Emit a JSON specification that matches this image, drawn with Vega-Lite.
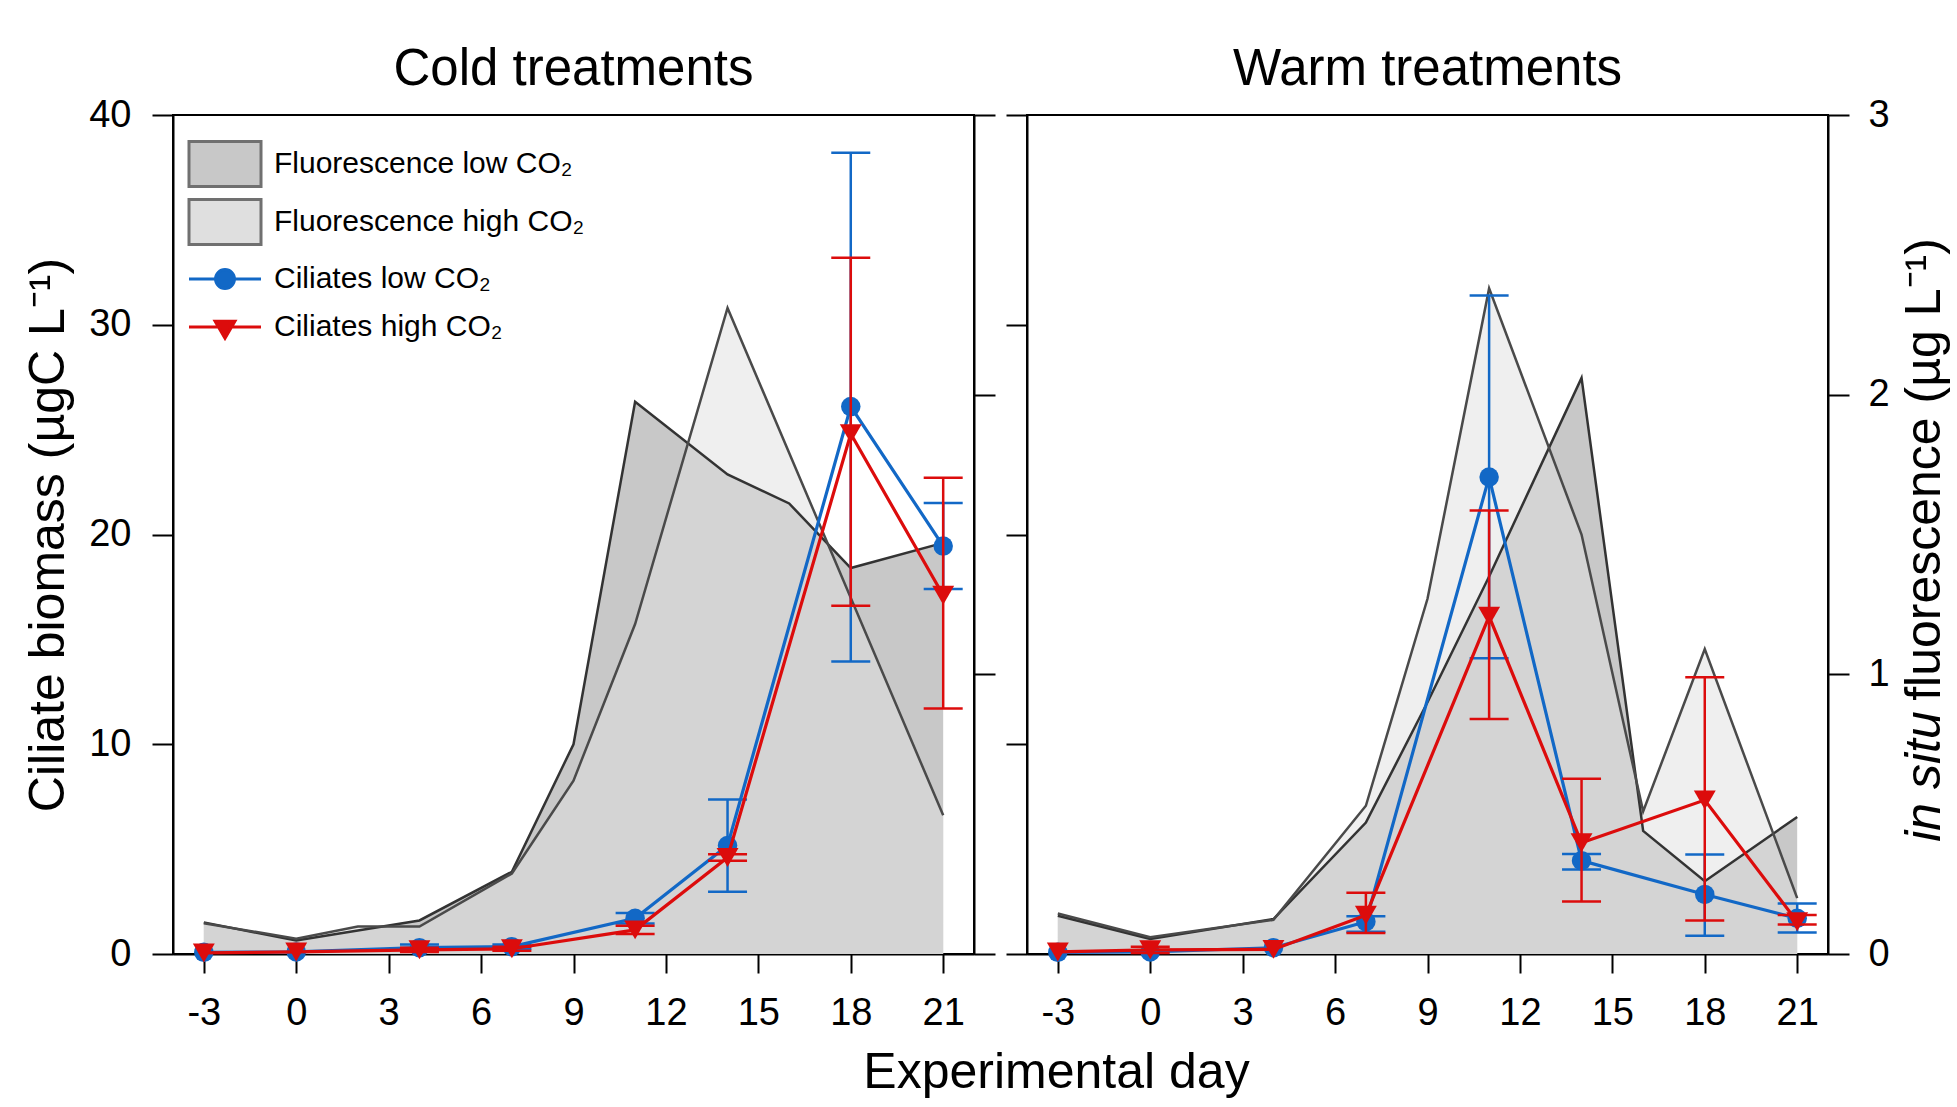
{
"$schema": "https://vega.github.io/schema/vega-lite/v6.json",
"background": "white",
"padding": {"left": 22, "top": 43, "right": 5, "bottom": 5},
"config": {
 "font": "Liberation Sans",
 "view": {"stroke": "black", "strokeWidth": 2},
 "axis": {"grid": false, "domainColor": "black", "domainWidth": 2, "tickColor": "black", "tickWidth": 2, "labelFont": "Liberation Sans", "labelFontSize": 38, "labelColor": "black", "titleFont": "Liberation Sans", "titleFontSize": 50, "titleFontWeight": "normal", "titleColor": "black", "labelOverlap": false},
 "legend": {"labelFont": "Liberation Sans"},
 "area": {"invalid": "filter"},
 "line": {"invalid": "filter"}
},
"datasets": {
 "fl": [
  {"panel": "cold", "day": -3, "low": 0.113, "high": 0.11},
  {"panel": "cold", "day": 0, "low": 0.048, "high": 0.055},
  {"panel": "cold", "day": 2, "low": null, "high": 0.098},
  {"panel": "cold", "day": 4, "low": 0.12, "high": 0.098},
  {"panel": "cold", "day": 7, "low": 0.294, "high": 0.288},
  {"panel": "cold", "day": 9, "low": 0.75, "high": 0.62},
  {"panel": "cold", "day": 11, "low": 1.975, "high": 1.18},
  {"panel": "cold", "day": 14, "low": 1.715, "high": 2.31},
  {"panel": "cold", "day": 16, "low": 1.611, "high": null},
  {"panel": "cold", "day": 18, "low": 1.38, "high": null},
  {"panel": "cold", "day": 21, "low": 1.47, "high": 0.496},
  {"panel": "warm", "day": -3, "low": 0.137, "high": 0.145},
  {"panel": "warm", "day": 0, "low": 0.054, "high": 0.06},
  {"panel": "warm", "day": 4, "low": 0.125, "high": 0.122},
  {"panel": "warm", "day": 7, "low": 0.47, "high": 0.53},
  {"panel": "warm", "day": 9, "low": 0.9, "high": 1.27},
  {"panel": "warm", "day": 11, "low": 1.35, "high": 2.38},
  {"panel": "warm", "day": 14, "low": 2.06, "high": 1.5},
  {"panel": "warm", "day": 16, "low": 0.44, "high": 0.51},
  {"panel": "warm", "day": 18, "low": 0.26, "high": 1.09},
  {"panel": "warm", "day": 21, "low": 0.49, "high": 0.2}
 ],
 "cil": [
  {"panel": "cold", "series": "low", "day": -3, "mean": 0.08, "lo": null, "hi": null},
  {"panel": "cold", "series": "low", "day": 0, "mean": 0.1, "lo": null, "hi": null},
  {"panel": "cold", "series": "low", "day": 4, "mean": 0.3, "lo": 0.15, "hi": 0.45},
  {"panel": "cold", "series": "low", "day": 7, "mean": 0.35, "lo": 0.25, "hi": 0.45},
  {"panel": "cold", "series": "low", "day": 11, "mean": 1.7, "lo": 1.45, "hi": 1.95},
  {"panel": "cold", "series": "low", "day": 14, "mean": 5.17, "lo": 2.97, "hi": 7.37},
  {"panel": "cold", "series": "low", "day": 18, "mean": 26.1, "lo": 13.95, "hi": 38.2},
  {"panel": "cold", "series": "low", "day": 21, "mean": 19.45, "lo": 17.4, "hi": 21.5},
  {"panel": "cold", "series": "high", "day": -3, "mean": 0.05, "lo": null, "hi": null},
  {"panel": "cold", "series": "high", "day": 0, "mean": 0.1, "lo": null, "hi": null},
  {"panel": "cold", "series": "high", "day": 4, "mean": 0.2, "lo": 0.1, "hi": 0.3},
  {"panel": "cold", "series": "high", "day": 7, "mean": 0.25, "lo": 0.15, "hi": 0.35},
  {"panel": "cold", "series": "high", "day": 11, "mean": 1.15, "lo": 0.95, "hi": 1.35},
  {"panel": "cold", "series": "high", "day": 14, "mean": 4.6, "lo": 4.45, "hi": 4.75},
  {"panel": "cold", "series": "high", "day": 18, "mean": 24.8, "lo": 16.6, "hi": 33.2},
  {"panel": "cold", "series": "high", "day": 21, "mean": 17.1, "lo": 11.7, "hi": 22.7},
  {"panel": "warm", "series": "low", "day": -3, "mean": 0.08, "lo": null, "hi": null},
  {"panel": "warm", "series": "low", "day": 0, "mean": 0.1, "lo": null, "hi": null},
  {"panel": "warm", "series": "low", "day": 4, "mean": 0.3, "lo": null, "hi": null},
  {"panel": "warm", "series": "low", "day": 7, "mean": 1.54, "lo": 1.06, "hi": 1.8},
  {"panel": "warm", "series": "low", "day": 11, "mean": 22.74, "lo": 14.1, "hi": 31.4},
  {"panel": "warm", "series": "low", "day": 14, "mean": 4.45, "lo": 4.03, "hi": 4.77},
  {"panel": "warm", "series": "low", "day": 18, "mean": 2.84, "lo": 0.87, "hi": 4.74},
  {"panel": "warm", "series": "low", "day": 21, "mean": 1.7, "lo": 1.03, "hi": 2.41},
  {"panel": "warm", "series": "high", "day": -3, "mean": 0.1, "lo": null, "hi": null},
  {"panel": "warm", "series": "high", "day": 0, "mean": 0.2, "lo": 0.05, "hi": 0.35},
  {"panel": "warm", "series": "high", "day": 4, "mean": 0.22, "lo": null, "hi": null},
  {"panel": "warm", "series": "high", "day": 7, "mean": 1.85, "lo": 1.0, "hi": 2.92},
  {"panel": "warm", "series": "high", "day": 11, "mean": 16.1, "lo": 11.2, "hi": 21.15},
  {"panel": "warm", "series": "high", "day": 14, "mean": 5.3, "lo": 2.5, "hi": 8.35},
  {"panel": "warm", "series": "high", "day": 18, "mean": 7.34, "lo": 1.6, "hi": 13.2},
  {"panel": "warm", "series": "high", "day": 21, "mean": 1.54, "lo": 1.41, "hi": 1.86}
 ]
},
"spacing": 53,
"bounds": "flush",
"hconcat": [
 {
  "width": 801, "height": 839,
  "title": {"text": "Cold treatments", "fontSize": 51, "fontWeight": "normal", "font": "Liberation Sans", "color": "black", "frame": "group", "anchor": "middle", "baseline": "alphabetic", "offset": -40},
  "encoding": {"x": {"field": "day", "type": "quantitative", "scale": {"domain": [-4, 22], "nice": false, "zero": false}, "axis": {"values": [-3, 0, 3, 6, 9, 12, 15, 18, 21], "tickSize": 19, "labelPadding": 21, "labelFlush": false, "labelExpr": "datum.value < 0 ? '-' + (-datum.value) : '' + datum.value", "title": "Experimental day", "titleX": 883, "titleY": 133, "titleAlign": "center", "titleBaseline": "alphabetic"}}},
  "resolve": {"scale": {"y": "independent", "fill": "independent", "stroke": "independent"}},
  "layer": [
   {
    "data": {"name": "fl"},
    "transform": [{"filter": "datum.panel === 'cold'"}],
    "mark": {"type": "area", "fillOpacity": 1, "invalid": "filter"},
    "encoding": {
     "y": {"field": "low", "type": "quantitative", "scale": {"domain": [0, 3], "nice": false}, "axis": {"orient": "right", "values": [0, 1, 2, 3], "labels": false, "tickSize": 21, "title": null}},
     "fill": {"datum": "Fluorescence low CO₂", "type": "nominal", "scale": {"range": ["#c8c8c8"]}, "legend": {"orient": "none", "legendX": 28, "legendY": 25, "title": null, "padding": 0, "symbolType": "M-1.6,-1H1.6V1H-1.6Z", "symbolSize": 2025, "symbolStrokeWidth": 3, "symbolStrokeColor": "#707070", "symbolFillColor": "#c8c8c8", "labelFontSize": 30, "labelOffset": 25, "labelLimit": 0, "labelColor": "black", "encode": {"symbols": {"update": {"fill": {"value": "#c8c8c8"}, "stroke": {"value": "#707070"}, "strokeWidth": {"value": 3}, "opacity": {"value": 1}, "fillOpacity": {"value": 1}}}}}}
    }
   },
   {
    "data": {"name": "fl"},
    "transform": [{"filter": "datum.panel === 'cold'"}],
    "layer": [
     {
      "mark": {"type": "area", "fillOpacity": 0.5, "invalid": "filter"},
      "encoding": {
       "y": {"field": "high", "type": "quantitative", "scale": {"domain": [0, 3], "nice": false}, "axis": null},
       "fill": {"datum": "Fluorescence high CO₂", "type": "nominal", "scale": {"range": ["#dfdfdf"]}, "legend": {"orient": "none", "legendX": 28, "legendY": 83, "title": null, "padding": 0, "symbolType": "M-1.6,-1H1.6V1H-1.6Z", "symbolSize": 2025, "symbolStrokeWidth": 3, "symbolStrokeColor": "#707070", "symbolFillColor": "#efefef", "labelFontSize": 30, "labelOffset": 25, "labelLimit": 0, "labelColor": "black", "encode": {"symbols": {"update": {"fill": {"value": "#efefef"}, "stroke": {"value": "#707070"}, "strokeWidth": {"value": 3}, "opacity": {"value": 1}, "fillOpacity": {"value": 1}}}}}}
      }
     },
     {
      "mark": {"type": "line", "color": "#333333", "strokeWidth": 2.5, "invalid": "filter"},
      "encoding": {"y": {"field": "low", "type": "quantitative", "scale": {"domain": [0, 3], "nice": false}, "axis": null}}
     },
     {
      "mark": {"type": "line", "color": "#4a4a4a", "strokeWidth": 2.5, "invalid": "filter"},
      "encoding": {"y": {"field": "high", "type": "quantitative", "scale": {"domain": [0, 3], "nice": false}, "axis": null}}
     }
    ]
   },
   {
    "data": {"name": "cil"},
    "transform": [{"filter": "datum.panel === 'cold'"}],
    "resolve": {"scale": {"stroke": "independent"}},
    "layer": [
     {
      "transform": [{"filter": "datum.series === 'low'"}],
      "layer": [
       {"mark": {"type": "rule", "color": "#1268c6", "strokeWidth": 2.5}, "encoding": {"y": {"field": "lo", "type": "quantitative", "scale": {"domain": [0, 40], "nice": false}, "axis": {"orient": "left", "values": [0, 10, 20, 30, 40], "tickSize": 21, "labelPadding": 21, "title": "Ciliate biomass (µgC L⁻¹)", "titleX": -125, "titleY": 419.5, "titleAngle": 270, "titleAlign": "center", "titleBaseline": "middle"}}, "y2": {"field": "hi"}}},
       {"mark": {"type": "tick", "orient": "horizontal", "color": "#1268c6", "size": 39, "thickness": 2.5, "opacity": 1}, "encoding": {"y": {"field": "hi", "type": "quantitative", "scale": {"domain": [0, 40], "nice": false}, "axis": {"orient": "left", "values": [0, 10, 20, 30, 40], "tickSize": 21, "labelPadding": 21, "title": "Ciliate biomass (µgC L⁻¹)", "titleX": -125, "titleY": 419.5, "titleAngle": 270, "titleAlign": "center", "titleBaseline": "middle"}}}},
       {"mark": {"type": "tick", "orient": "horizontal", "color": "#1268c6", "size": 39, "thickness": 2.5, "opacity": 1}, "encoding": {"y": {"field": "lo", "type": "quantitative", "scale": {"domain": [0, 40], "nice": false}, "axis": {"orient": "left", "values": [0, 10, 20, 30, 40], "tickSize": 21, "labelPadding": 21, "title": "Ciliate biomass (µgC L⁻¹)", "titleX": -125, "titleY": 419.5, "titleAngle": 270, "titleAlign": "center", "titleBaseline": "middle"}}}},
       {"mark": {"type": "line", "strokeWidth": 3.2, "invalid": "filter"}, "encoding": {"y": {"field": "mean", "type": "quantitative", "scale": {"domain": [0, 40], "nice": false}, "axis": {"orient": "left", "values": [0, 10, 20, 30, 40], "tickSize": 21, "labelPadding": 21, "title": "Ciliate biomass (µgC L⁻¹)", "titleX": -125, "titleY": 419.5, "titleAngle": 270, "titleAlign": "center", "titleBaseline": "middle"}}, "stroke": {"datum": "Ciliates low CO₂", "type": "nominal", "scale": {"range": ["#1268c6"]}, "legend": {"orient": "none", "legendX": 28, "legendY": 140, "title": null, "padding": 0, "symbolType": "M-1.6,0H1.6M-0.42,0A0.42,0.42,0,1,1,0.42,0A0.42,0.42,0,1,1,-0.42,0Z", "symbolSize": 2025, "symbolStrokeWidth": 3, "symbolStrokeColor": "#1268c6", "symbolFillColor": "#1268c6", "labelFontSize": 30, "labelOffset": 25, "labelLimit": 0, "labelColor": "black", "encode": {"symbols": {"update": {"fill": {"value": "#1268c6"}, "stroke": {"value": "#1268c6"}, "strokeWidth": {"value": 3}, "opacity": {"value": 1}, "fillOpacity": {"value": 1}}}}}}}},
       {"mark": {"type": "point", "shape": "circle", "filled": true, "size": 380, "color": "#1268c6", "opacity": 1}, "encoding": {"y": {"field": "mean", "type": "quantitative", "scale": {"domain": [0, 40], "nice": false}, "axis": {"orient": "left", "values": [0, 10, 20, 30, 40], "tickSize": 21, "labelPadding": 21, "title": "Ciliate biomass (µgC L⁻¹)", "titleX": -125, "titleY": 419.5, "titleAngle": 270, "titleAlign": "center", "titleBaseline": "middle"}}}}
      ]
     },
     {
      "transform": [{"filter": "datum.series === 'high'"}],
      "layer": [
       {"mark": {"type": "rule", "color": "#dc0c0c", "strokeWidth": 2.5}, "encoding": {"y": {"field": "lo", "type": "quantitative", "scale": {"domain": [0, 40], "nice": false}, "axis": {"orient": "left", "values": [0, 10, 20, 30, 40], "tickSize": 21, "labelPadding": 21, "title": "Ciliate biomass (µgC L⁻¹)", "titleX": -125, "titleY": 419.5, "titleAngle": 270, "titleAlign": "center", "titleBaseline": "middle"}}, "y2": {"field": "hi"}}},
       {"mark": {"type": "tick", "orient": "horizontal", "color": "#dc0c0c", "size": 39, "thickness": 2.5, "opacity": 1}, "encoding": {"y": {"field": "hi", "type": "quantitative", "scale": {"domain": [0, 40], "nice": false}, "axis": {"orient": "left", "values": [0, 10, 20, 30, 40], "tickSize": 21, "labelPadding": 21, "title": "Ciliate biomass (µgC L⁻¹)", "titleX": -125, "titleY": 419.5, "titleAngle": 270, "titleAlign": "center", "titleBaseline": "middle"}}}},
       {"mark": {"type": "tick", "orient": "horizontal", "color": "#dc0c0c", "size": 39, "thickness": 2.5, "opacity": 1}, "encoding": {"y": {"field": "lo", "type": "quantitative", "scale": {"domain": [0, 40], "nice": false}, "axis": {"orient": "left", "values": [0, 10, 20, 30, 40], "tickSize": 21, "labelPadding": 21, "title": "Ciliate biomass (µgC L⁻¹)", "titleX": -125, "titleY": 419.5, "titleAngle": 270, "titleAlign": "center", "titleBaseline": "middle"}}}},
       {"mark": {"type": "line", "strokeWidth": 3.2, "invalid": "filter"}, "encoding": {"y": {"field": "mean", "type": "quantitative", "scale": {"domain": [0, 40], "nice": false}, "axis": {"orient": "left", "values": [0, 10, 20, 30, 40], "tickSize": 21, "labelPadding": 21, "title": "Ciliate biomass (µgC L⁻¹)", "titleX": -125, "titleY": 419.5, "titleAngle": 270, "titleAlign": "center", "titleBaseline": "middle"}}, "stroke": {"datum": "Ciliates high CO₂", "type": "nominal", "scale": {"range": ["#dc0c0c"]}, "legend": {"orient": "none", "legendX": 28, "legendY": 188, "title": null, "padding": 0, "symbolType": "M-1.6,0H1.6M-0.44,-0.26L0.44,-0.26L0,0.5Z", "symbolSize": 2025, "symbolStrokeWidth": 3, "symbolStrokeColor": "#dc0c0c", "symbolFillColor": "#dc0c0c", "labelFontSize": 30, "labelOffset": 25, "labelLimit": 0, "labelColor": "black", "encode": {"symbols": {"update": {"fill": {"value": "#dc0c0c"}, "stroke": {"value": "#dc0c0c"}, "strokeWidth": {"value": 3}, "opacity": {"value": 1}, "fillOpacity": {"value": 1}}}}}}}},
       {"mark": {"type": "point", "shape": "triangle-down", "filled": true, "size": 480, "color": "#dc0c0c", "opacity": 1}, "encoding": {"y": {"field": "mean", "type": "quantitative", "scale": {"domain": [0, 40], "nice": false}, "axis": {"orient": "left", "values": [0, 10, 20, 30, 40], "tickSize": 21, "labelPadding": 21, "title": "Ciliate biomass (µgC L⁻¹)", "titleX": -125, "titleY": 419.5, "titleAngle": 270, "titleAlign": "center", "titleBaseline": "middle"}}}}
      ]
     }
    ]
   }
  ]
 },
 {
  "width": 801, "height": 839,
  "title": {"text": "Warm treatments", "fontSize": 51, "fontWeight": "normal", "font": "Liberation Sans", "color": "black", "frame": "group", "anchor": "middle", "baseline": "alphabetic", "offset": -40},
  "encoding": {"x": {"field": "day", "type": "quantitative", "scale": {"domain": [-4, 22], "nice": false, "zero": false}, "axis": {"values": [-3, 0, 3, 6, 9, 12, 15, 18, 21], "tickSize": 19, "labelPadding": 21, "labelFlush": false, "labelExpr": "datum.value < 0 ? '-' + (-datum.value) : '' + datum.value", "title": null}}},
  "resolve": {"scale": {"y": "independent"}},
  "layer": [
   {
    "data": {"name": "fl"},
    "transform": [{"filter": "datum.panel === 'warm'"}],
    "mark": {"type": "area", "color": "#c8c8c8", "fillOpacity": 1, "invalid": "filter"},
    "encoding": {
     "y": {"field": "low", "type": "quantitative", "scale": {"domain": [0, 3], "nice": false}, "axis": {"orient": "right", "values": [0, 1, 2, 3], "tickSize": 21, "labelPadding": 19, "title": "in situ", "titleFontStyle": "italic", "titleX": 96, "titleY": 661, "titleAngle": 270, "titleAlign": "center", "titleBaseline": "middle"}}
    }
   },
   {
    "data": {"name": "fl"},
    "transform": [{"filter": "datum.panel === 'warm'"}],
    "layer": [
     {
      "mark": {"type": "area", "color": "#dfdfdf", "fillOpacity": 0.5, "invalid": "filter"},
      "encoding": {"y": {"field": "high", "type": "quantitative", "scale": {"domain": [0, 3], "nice": false}, "axis": {"orient": "right", "labels": false, "ticks": false, "domain": false, "title": "fluorescence (µg L⁻¹)", "titleX": 96, "titleY": 354, "titleAngle": 270, "titleAlign": "center", "titleBaseline": "middle"}}}
     },
     {
      "mark": {"type": "line", "color": "#333333", "strokeWidth": 2.5, "invalid": "filter"},
      "encoding": {"y": {"field": "low", "type": "quantitative", "scale": {"domain": [0, 3], "nice": false}, "axis": {"orient": "right", "labels": false, "ticks": false, "domain": false, "title": "fluorescence (µg L⁻¹)", "titleX": 96, "titleY": 354, "titleAngle": 270, "titleAlign": "center", "titleBaseline": "middle"}}}
     },
     {
      "mark": {"type": "line", "color": "#4a4a4a", "strokeWidth": 2.5, "invalid": "filter"},
      "encoding": {"y": {"field": "high", "type": "quantitative", "scale": {"domain": [0, 3], "nice": false}, "axis": {"orient": "right", "labels": false, "ticks": false, "domain": false, "title": "fluorescence (µg L⁻¹)", "titleX": 96, "titleY": 354, "titleAngle": 270, "titleAlign": "center", "titleBaseline": "middle"}}}
     }
    ]
   },
   {
    "data": {"name": "cil"},
    "transform": [{"filter": "datum.panel === 'warm'"}],
    "layer": [
     {
      "transform": [{"filter": "datum.series === 'low'"}],
      "layer": [
       {"mark": {"type": "rule", "color": "#1268c6", "strokeWidth": 2.5}, "encoding": {"y": {"field": "lo", "type": "quantitative", "scale": {"domain": [0, 40], "nice": false}, "axis": {"orient": "left", "values": [0, 10, 20, 30, 40], "tickSize": 21, "labels": false, "title": null}}, "y2": {"field": "hi"}}},
       {"mark": {"type": "tick", "orient": "horizontal", "color": "#1268c6", "size": 39, "thickness": 2.5, "opacity": 1}, "encoding": {"y": {"field": "hi", "type": "quantitative", "scale": {"domain": [0, 40], "nice": false}, "axis": {"orient": "left", "values": [0, 10, 20, 30, 40], "tickSize": 21, "labels": false, "title": null}}}},
       {"mark": {"type": "tick", "orient": "horizontal", "color": "#1268c6", "size": 39, "thickness": 2.5, "opacity": 1}, "encoding": {"y": {"field": "lo", "type": "quantitative", "scale": {"domain": [0, 40], "nice": false}, "axis": {"orient": "left", "values": [0, 10, 20, 30, 40], "tickSize": 21, "labels": false, "title": null}}}},
       {"mark": {"type": "line", "color": "#1268c6", "strokeWidth": 3.2, "invalid": "filter"}, "encoding": {"y": {"field": "mean", "type": "quantitative", "scale": {"domain": [0, 40], "nice": false}, "axis": {"orient": "left", "values": [0, 10, 20, 30, 40], "tickSize": 21, "labels": false, "title": null}}}},
       {"mark": {"type": "point", "shape": "circle", "filled": true, "size": 380, "color": "#1268c6", "opacity": 1}, "encoding": {"y": {"field": "mean", "type": "quantitative", "scale": {"domain": [0, 40], "nice": false}, "axis": {"orient": "left", "values": [0, 10, 20, 30, 40], "tickSize": 21, "labels": false, "title": null}}}}
      ]
     },
     {
      "transform": [{"filter": "datum.series === 'high'"}],
      "layer": [
       {"mark": {"type": "rule", "color": "#dc0c0c", "strokeWidth": 2.5}, "encoding": {"y": {"field": "lo", "type": "quantitative", "scale": {"domain": [0, 40], "nice": false}, "axis": {"orient": "left", "values": [0, 10, 20, 30, 40], "tickSize": 21, "labels": false, "title": null}}, "y2": {"field": "hi"}}},
       {"mark": {"type": "tick", "orient": "horizontal", "color": "#dc0c0c", "size": 39, "thickness": 2.5, "opacity": 1}, "encoding": {"y": {"field": "hi", "type": "quantitative", "scale": {"domain": [0, 40], "nice": false}, "axis": {"orient": "left", "values": [0, 10, 20, 30, 40], "tickSize": 21, "labels": false, "title": null}}}},
       {"mark": {"type": "tick", "orient": "horizontal", "color": "#dc0c0c", "size": 39, "thickness": 2.5, "opacity": 1}, "encoding": {"y": {"field": "lo", "type": "quantitative", "scale": {"domain": [0, 40], "nice": false}, "axis": {"orient": "left", "values": [0, 10, 20, 30, 40], "tickSize": 21, "labels": false, "title": null}}}},
       {"mark": {"type": "line", "color": "#dc0c0c", "strokeWidth": 3.2, "invalid": "filter"}, "encoding": {"y": {"field": "mean", "type": "quantitative", "scale": {"domain": [0, 40], "nice": false}, "axis": {"orient": "left", "values": [0, 10, 20, 30, 40], "tickSize": 21, "labels": false, "title": null}}}},
       {"mark": {"type": "point", "shape": "triangle-down", "filled": true, "size": 480, "color": "#dc0c0c", "opacity": 1}, "encoding": {"y": {"field": "mean", "type": "quantitative", "scale": {"domain": [0, 40], "nice": false}, "axis": {"orient": "left", "values": [0, 10, 20, 30, 40], "tickSize": 21, "labels": false, "title": null}}}}
      ]
     }
    ]
   }
  ]
 }
]
}
